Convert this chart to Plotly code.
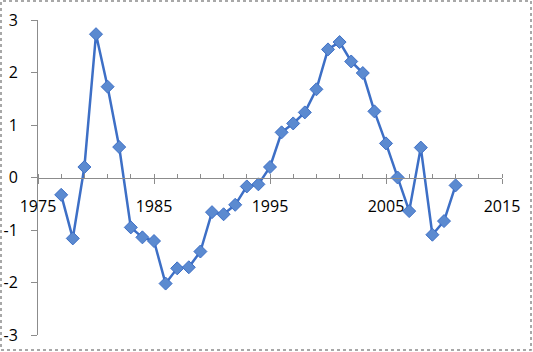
import plotly.graph_objects as go

years = list(range(1977, 2012))
values = [-0.33, -1.16, 0.20, 2.73, 1.73, 0.58, -0.95, -1.14, -1.21, -2.02,
          -1.73, -1.71, -1.41, -0.66, -0.70, -0.52, -0.17, -0.13, 0.20, 0.86,
          1.03, 1.24, 1.68, 2.44, 2.58, 2.21, 1.99, 1.26, 0.65, 0.00,
          -0.64, 0.57, -1.09, -0.83, -0.15]

x_ticks = [1975, 1985, 1995, 2005, 2015]
y_ticks = [-3, -2, -1, 0, 1, 2, 3]

W, H = 533, 352
L, R, T, B = 38, 31, 20, 17
pw, ph = W - L - R, H - T - B

fig = go.Figure()
fig.add_trace(go.Scatter(
    x=years, y=values, mode="lines+markers",
    line=dict(color="#3d6fc6", width=2.5),
    marker=dict(symbol="diamond", size=10, color="#5b8ad0",
                line=dict(color="#3d6fc6", width=1)),
    showlegend=False,
))

font = dict(family="Open Sans, Liberation Sans, sans-serif", size=16, color="#000000")

fig.update_layout(
    width=W, height=H,
    margin=dict(l=L, r=R, t=T, b=B, pad=0),
    paper_bgcolor="white", plot_bgcolor="white",
    font=font,
    xaxis=dict(
        range=[1975, 2015], tickvals=x_ticks, ticktext=[str(v) for v in x_ticks],
        showgrid=False, zeroline=False, showline=True, linecolor="#8c8c8c", linewidth=1,
        ticks="outside", ticklen=5, tickcolor="#8c8c8c",
        minor=dict(dtick=2, tick0=1975, ticks="inside", ticklen=4, tickcolor="#8c8c8c", showgrid=False),
        anchor="free", position=0.5, ticklabelstandoff=9, automargin=False,
    ),
    yaxis=dict(
        range=[-3, 3], tickvals=y_ticks, ticktext=[str(v) for v in y_ticks],
        showgrid=False, zeroline=False, showline=True, linecolor="#8c8c8c", linewidth=1,
        ticks="outside", ticklen=6, tickcolor="#8c8c8c", ticklabelstandoff=10,
        automargin=False,
    ),
)

x0 = (1 - L) / pw
x1 = (W - 2 - L) / pw
y0 = (H - B - (H - 2)) / ph
y1 = (H - B - 1) / ph
fig.add_shape(type="rect", xref="paper", yref="paper", x0=x0, x1=x1, y0=y0, y1=y1,
              line=dict(color="#8c8c8c", width=1.5, dash="dot"), layer="below")

fig.write_html("out.html")
